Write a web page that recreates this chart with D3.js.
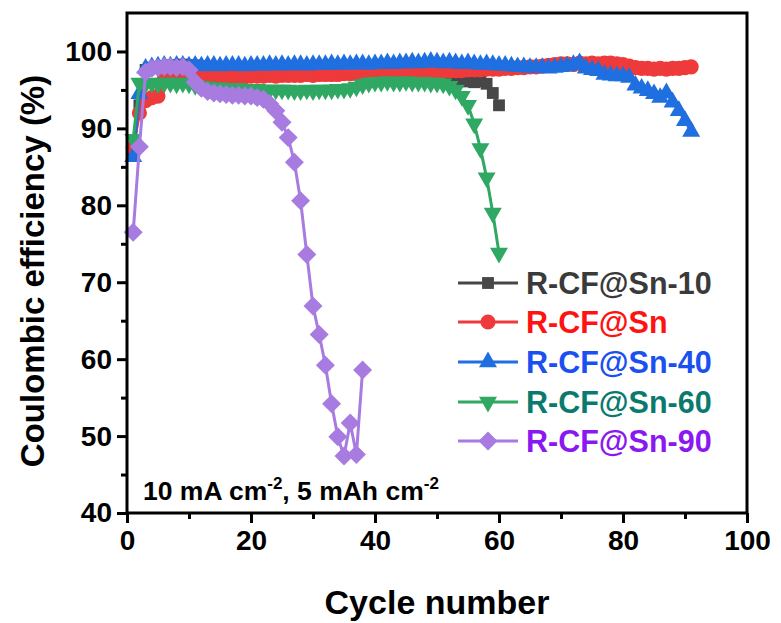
<!DOCTYPE html>
<html>
<head>
<meta charset="utf-8">
<script src="https://cdn.jsdelivr.net/npm/d3@7"></script>
<style>
  html, body { margin: 0; padding: 0; background: #fff; }
  svg { display: block; }
  text { font-family: "Liberation Sans", Arial, Helvetica, sans-serif; font-weight: bold; }
</style>
</head>
<body>
<svg id="chart" width="781" height="623"></svg>
<script>
// Coulombic efficiency per cycle for each electrode
const sn10 = [
  86.8, 93.0, 97.6, 97.9, 98.0, 98.1, 98.2, 98.2, 98.3, 98.2,
  98.2, 98.1, 98.0, 98.0, 97.9, 97.9, 97.8, 97.8, 97.8, 97.7,
  97.7, 97.7, 97.6, 97.6, 97.6, 97.5, 97.5, 97.5, 97.4, 97.4,
  97.4, 97.4, 97.3, 97.3, 97.3, 97.3, 97.3, 97.2, 97.2, 97.2,
  97.2, 97.2, 97.1, 97.1, 97.1, 97.1, 97.0, 97.0, 96.9, 96.8,
  96.7, 96.6, 96.4, 96.2, 96.1, 96.0, 96.1, 95.8, 94.6, 93.0
];
const snPlain = [
  87.5, 92.0, 93.6, 94.0, 94.2, 96.4, 96.6, 96.7, 96.7, 96.8,
  96.8, 96.7, 96.8, 96.7, 96.8, 96.7, 96.7, 96.8, 96.7, 96.8,
  96.8, 96.8, 96.9, 96.8, 96.9, 96.9, 96.9, 96.9, 97.0, 96.9,
  97.0, 97.0, 97.0, 97.0, 97.1, 97.1, 97.1, 97.1, 97.1, 97.2,
  97.2, 97.2, 97.2, 97.3, 97.3, 97.3, 97.3, 97.4, 97.4, 97.4,
  97.4, 97.5, 97.5, 97.5, 97.6, 97.6, 97.6, 97.7, 97.7, 97.7,
  97.8, 97.8, 97.9, 97.9, 98.0, 98.0, 98.1, 98.2, 98.3, 98.4,
  98.4, 98.3, 98.5, 98.4, 98.5, 98.4, 98.5, 98.5, 98.4, 98.3,
  98.1, 97.9, 97.8, 97.8, 97.7, 97.8, 97.7, 97.8, 97.8, 97.9,
  98.0
];
const sn40 = [
  86.3, 94.5, 97.8, 98.0, 98.1, 98.2, 98.1, 98.2, 98.2, 98.1,
  98.2, 98.1, 98.2, 98.2, 98.1, 98.2, 98.2, 98.2, 98.1, 98.2,
  98.2, 98.2, 98.3, 98.2, 98.3, 98.2, 98.3, 98.3, 98.2, 98.3,
  98.3, 98.3, 98.4, 98.3, 98.4, 98.3, 98.4, 98.4, 98.3, 98.4,
  98.4, 98.5, 98.4, 98.5, 98.5, 98.6, 98.5, 98.6, 98.7, 98.6,
  98.5, 98.6, 98.5, 98.4, 98.5, 98.4, 98.3, 98.4, 98.3, 98.2,
  98.2, 98.1, 98.0, 98.0, 97.9, 97.9, 97.9, 97.8, 97.9, 98.0,
  98.1, 98.3, 98.5, 97.8, 97.6, 97.5, 97.0, 96.9, 96.8, 96.8,
  96.6, 95.6, 95.2, 94.9, 94.5, 94.0, 94.6, 93.4, 92.3, 91.0,
  89.6
];
const sn60 = [
  88.6, 95.9, 95.8, 95.9, 95.8, 95.9, 95.9, 95.8, 95.9, 95.8,
  95.6, 95.5, 95.4, 95.3, 95.3, 95.2, 95.2, 95.2, 95.1, 95.1,
  95.1, 95.0, 95.0, 95.0, 95.0, 95.0, 94.9, 94.9, 95.0, 94.9,
  95.0, 95.0, 95.0, 95.1, 95.1, 95.2, 95.4, 95.7, 95.9, 96.0,
  96.0, 96.1, 96.0, 96.0, 96.1, 96.0, 96.0, 96.0, 95.9, 95.9,
  95.8, 95.5, 95.0, 94.2, 93.0, 90.6, 87.4, 83.6, 79.0, 73.8
];
const sn90 = [
  76.5, 87.6, 97.3, 97.8, 97.9, 98.0, 98.0, 97.9, 98.0, 97.6,
  96.0, 95.2, 94.8, 94.6, 94.5, 94.4, 94.3, 94.3, 94.2, 94.2,
  94.0, 93.8, 93.2, 92.3, 90.8, 88.8, 85.6, 80.6, 73.6, 66.9,
  63.2, 59.2, 54.2, 49.9, 47.4, 51.7, 47.6, 58.6
];

const seriesNames = ["R-CF@Sn-10", "R-CF@Sn", "R-CF@Sn-40", "R-CF@Sn-60", "R-CF@Sn-90"];
const seriesValues = [sn10, snPlain, sn40, sn60, sn90];
const markerColors = ["#474747", "#ee3a3a", "#1f6fe0", "#2ea862", "#a77be0"];
const labelColors  = ["#3a3a3a", "#ff1212", "#1a4ff0", "#0b7a6e", "#8a18f0"];
const markerKinds  = ["square", "circle", "triangleUp", "triangleDown", "diamond"];

const xTicks = [0, 20, 40, 60, 80, 100];
const yTicks = [40, 50, 60, 70, 80, 90, 100];

const svg = d3.select("#chart");
const margin = { left: 127, right: 34, top: 13, bottom: 110 };
const W = 781, H = 623;

const x = d3.scaleLinear().domain([0, 100]).range([margin.left, W - margin.right]);
const y = d3.scaleLinear().domain([40, 105]).range([H - margin.bottom, margin.top]);

// marker shapes
function markerPath(kind) {
  switch (kind) {
    case "square": return d3.symbol(d3.symbolSquare, 140)();
    case "circle": return d3.symbol(d3.symbolCircle, 180)();
    case "triangleUp": return d3.symbol(d3.symbolTriangle, 140)();
    case "triangleDown": return d3.symbol(d3.symbolTriangle, 140)();
    case "diamond": return d3.symbol(d3.symbolSquare, 180)();
  }
}
function markerRotation(kind) {
  if (kind === "triangleDown") return 180;
  if (kind === "diamond") return 45;
  return 0;
}

const plot = svg.append("g");
const line = d3.line().x((d, i) => x(i + 1)).y(d => y(d));

seriesValues.forEach((vals, s) => {
  const g = plot.append("g");
  g.append("path")
    .datum(vals)
    .attr("d", line)
    .attr("fill", "none")
    .attr("stroke", markerColors[s])
    .attr("stroke-width", 3)
    .attr("stroke-linejoin", "round");
  const p = markerPath(markerKinds[s]);
  const rot = markerRotation(markerKinds[s]);
  g.selectAll("path.m")
    .data(vals)
    .join("path")
    .attr("class", "m")
    .attr("d", p)
    .attr("transform", (d, i) => `translate(${x(i + 1)},${y(d)}) rotate(${rot})`)
    .attr("fill", markerColors[s]);
});

// frame
const x0 = x(0), x1 = x(100), yb = y(40), yt = y(105);
svg.append("rect")
  .attr("x", x0).attr("y", yt)
  .attr("width", x1 - x0).attr("height", yb - yt)
  .attr("fill", "none").attr("stroke", "#000").attr("stroke-width", 3);

// bottom axis
const xAxis = d3.axisBottom(x).tickValues(xTicks).tickSize(10).tickPadding(7).tickFormat(d3.format("d"));
const gx = svg.append("g").attr("transform", `translate(0,${yb})`).call(xAxis);
gx.select(".domain").remove();
gx.selectAll(".tick line").attr("stroke-width", 3);
gx.selectAll(".tick text").attr("font-size", 28).attr("font-family", "Liberation Sans, Arial, sans-serif").attr("font-weight", "bold").attr("fill", "#000");
const xMinor = d3.axisBottom(x).tickValues([10, 30, 50, 70, 90]).tickSize(6).tickFormat("");
const gxm = svg.append("g").attr("transform", `translate(0,${yb})`).call(xMinor);
gxm.select(".domain").remove();
gxm.selectAll(".tick line").attr("stroke-width", 3);

// left axis
const yAxis = d3.axisLeft(y).tickValues(yTicks).tickSize(10).tickPadding(5).tickFormat(d3.format("d"));
const gy = svg.append("g").attr("transform", `translate(${x0},0)`).call(yAxis);
gy.select(".domain").remove();
gy.selectAll(".tick line").attr("stroke-width", 3);
gy.selectAll(".tick text").attr("font-size", 28).attr("font-family", "Liberation Sans, Arial, sans-serif").attr("font-weight", "bold").attr("fill", "#000");
const yMinor = d3.axisLeft(y).tickValues([45, 55, 65, 75, 85, 95]).tickSize(6).tickFormat("");
const gym = svg.append("g").attr("transform", `translate(${x0},0)`).call(yMinor);
gym.select(".domain").remove();
gym.selectAll(".tick line").attr("stroke-width", 3);

// axis titles
svg.append("text")
  .attr("x", (x0 + x1) / 2).attr("y", 614)
  .attr("text-anchor", "middle").attr("font-size", 34).attr("fill", "#000")
  .text("Cycle number");
svg.append("text")
  .attr("transform", `translate(44,${(yt + yb) / 2 + 8}) rotate(-90)`)
  .attr("text-anchor", "middle").attr("font-size", 33).attr("fill", "#000")
  .text("Coulombic efficiency (%)");

// current density / capacity note
const note = svg.append("text").attr("x", 143).attr("y", 500).attr("font-size", 26.5).attr("fill", "#000");
note.append("tspan").text("10 mA cm");
note.append("tspan").attr("font-size", 17).attr("dy", -11).text("-2");
note.append("tspan").attr("dy", 11).text(", 5 mAh cm");
note.append("tspan").attr("font-size", 17).attr("dy", -11).text("-2");

// legend
const legendY = [283, 322, 362, 402, 441];
const legend = svg.append("g");
seriesNames.forEach((name, s) => {
  const row = legend.append("g").attr("transform", `translate(0,${legendY[s]})`);
  row.append("line").attr("x1", 458).attr("x2", 518).attr("y1", 0).attr("y2", 0)
    .attr("stroke", markerColors[s]).attr("stroke-width", 3);
  row.append("path").attr("d", markerPath(markerKinds[s]))
    .attr("transform", `translate(488,0) rotate(${markerRotation(markerKinds[s])})`)
    .attr("fill", markerColors[s]);
  row.append("text").attr("x", 526).attr("y", 0).attr("dy", "0.36em")
    .attr("font-size", 30.5).attr("fill", labelColors[s]).text(name);
});
</script>
</body>
</html>
